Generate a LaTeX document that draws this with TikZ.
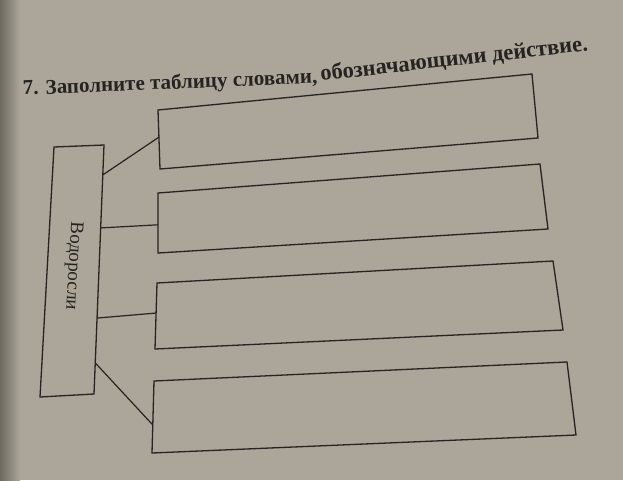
\documentclass[tikz,border=0pt]{standalone}
\usepackage{fontspec}
\setmainfont{Liberation Serif}
\usetikzlibrary{calc}
\definecolor{paper}{HTML}{ABA699}
\definecolor{paperdark}{HTML}{6E6A60}
\definecolor{ink}{HTML}{262320}
\tikzset{
  box/.style={draw=ink, line width=1.3pt, line join=miter},
  link/.style={draw=ink, line width=1.2pt},
  title/.style={text=ink, inner sep=0pt},
  label/.style={text=ink, font=\fontsize{19}{21}\selectfont, inner sep=0pt},
}
\begin{document}
\begin{tikzpicture}[x=1pt,y=-1pt]
\useasboundingbox (0,0) rectangle (623,480);
\fill[paper] (0,0) rectangle (623,480);
\shade[left color=paperdark, right color=paper] (0,0) rectangle (20,480);

% main box
\coordinate (m1) at (54,147); \coordinate (m2) at (104,145);
\coordinate (m3) at (94,394); \coordinate (m4) at (40,397);
\draw[box] (m1) -- (m2) -- (m3) -- (m4) -- cycle;
\node[label, rotate=-93.2] (algae) at (73,266) {Водоросли};

% answer boxes
\coordinate (a1) at (158,110); \coordinate (a2) at (532,74);
\coordinate (a3) at (538,138); \coordinate (a4) at (160,169);
\coordinate (b1) at (158,193); \coordinate (b2) at (540,164);
\coordinate (b3) at (548,229); \coordinate (b4) at (158,253);
\coordinate (c1) at (157,283); \coordinate (c2) at (553,261);
\coordinate (c3) at (563,330); \coordinate (c4) at (155,349);
\coordinate (d1) at (154,381); \coordinate (d2) at (567,362);
\coordinate (d3) at (576,435); \coordinate (d4) at (152,453);
\draw[box] (a1) -- (a2) -- (a3) -- (a4) -- cycle;
\draw[box] (b1) -- (b2) -- (b3) -- (b4) -- cycle;
\draw[box] (c1) -- (c2) -- (c3) -- (c4) -- cycle;
\draw[box] (d1) -- (d2) -- (d3) -- (d4) -- cycle;

% connectors
\coordinate (ma) at ($(m2)!0.12!(m3)$);
\coordinate (mb) at ($(m2)!0.333!(m3)$);
\coordinate (mc) at ($(m2)!0.695!(m3)$);
\coordinate (md) at ($(m2)!0.875!(m3)$);
\coordinate (ea) at ($(a1)!0.46!(a4)$);
\coordinate (eb) at ($(b1)!0.53!(b4)$);
\coordinate (ec) at ($(c1)!0.455!(c4)$);
\coordinate (ed) at ($(d1)!0.61!(d4)$);
\draw[link] (ma) -- (ea);
\draw[link] (mb) -- (eb);
\draw[link] (mc) -- (ec);
\draw[link] (md) -- (ed);

% title
\node[title, font=\bfseries\fontsize{21}{23}\selectfont, anchor=base west, rotate=2.3] (t1) at (23,95) {7. Заполните таблицу словами,};
\node[title, font=\bfseries\fontsize{22.5}{25}\selectfont, anchor=base west, rotate=6.5] (t2) at (321,81) {обозначающими действие.};
\end{tikzpicture}
\end{document}
